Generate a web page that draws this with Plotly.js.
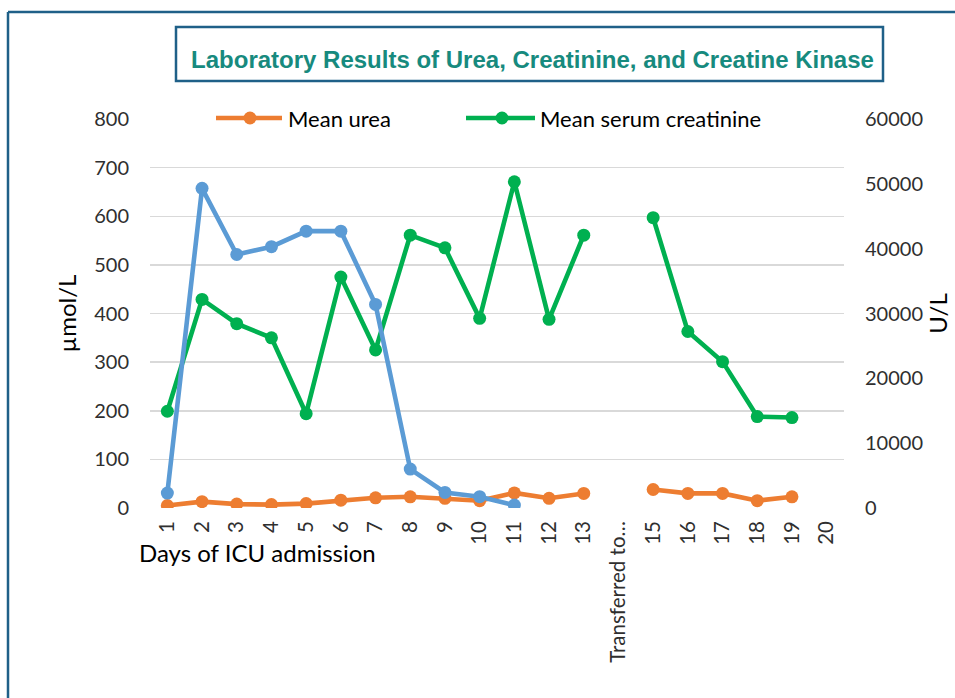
<!DOCTYPE html>
<html>
<head>
<meta charset="utf-8">
<script src="https://cdn.plot.ly/plotly-3.0.1.min.js"></script>
<style>
  html, body { margin: 0; padding: 0; background: #ffffff; }
  #chart { width: 955px; height: 698px; }
</style>
</head>
<body>
<div id="chart"></div>
<script>
// ---- Data ----
const days = ["1","2","3","4","5","6","7","8","9","10","11","12","13","Transferred to…","15","16","17","18","19","20"];
const ureaValues = [5, 13, 8, 7, 9, 16, 21, 23, 20, 15, 31, 20, 30, null, 38, 30, 30, 15, 23, null];
const creatinineValues = [199, 429, 379, 350, 194, 475, 325, 561, 535, 390, 671, 388, 561, null, 597, 363, 301, 188, 186, null];
const ckDays = ["1","2","3","4","5","6","7","8","9","10","11"];
const ckValues = [2300, 49300, 39100, 40300, 42700, 42700, 31400, 6000, 2400, 1750, 450];
const seriesNames = ["Mean urea", "Mean serum creatinine", "Mean creatine kinase"];
const chartTitle = "Laboratory Results of Urea, Creatinine, and Creatine Kinase";
const xTitle = "Days of ICU admission";
const yLeftTitle = "µmol/L";
const yRightTitle = "U/L";

// ---- Layout geometry ----
const W = 955, H = 698;
const M = { l: 150, r: 111, t: 119, b: 190 };
const PW = W - M.l - M.r, PH = H - M.t - M.b;
const xp = px => (px - M.l) / PW;
const yp = py => (H - M.b - py) / PH;

const ORANGE = "#ED7D31", GREEN = "#00B050", BLUE = "#5B9BD5";
const FRAME = "#1F6088";
const TXT = "#2f2f2f";
const FONT = "Lato, 'Open Sans', sans-serif";

const lineW = 4.6, mSize = 13;

const traces = [
  {
    x: days, y: ureaValues, name: seriesNames[0], type: "scatter", mode: "lines+markers",
    line: { color: ORANGE, width: lineW }, marker: { color: ORANGE, size: mSize },
    connectgaps: false, yaxis: "y", showlegend: false
  },
  {
    x: days, y: creatinineValues, name: seriesNames[1], type: "scatter", mode: "lines+markers",
    line: { color: GREEN, width: lineW }, marker: { color: GREEN, size: mSize },
    connectgaps: false, yaxis: "y", showlegend: false
  },
  {
    x: ckDays, y: ckValues, name: seriesNames[2], type: "scatter", mode: "lines+markers",
    line: { color: BLUE, width: lineW }, marker: { color: BLUE, size: mSize },
    yaxis: "y2", showlegend: false
  }
];

// custom legend (line + marker + label)
function legendItem(x0, x1, cx, ty, color) {
  const r = mSize / 2;
  return [
    { type: "line", xref: "paper", yref: "paper", x0: xp(x0), x1: xp(x1), y0: yp(ty), y1: yp(ty),
      line: { color: color, width: lineW } },
    { type: "circle", xref: "paper", yref: "paper", x0: xp(cx - r), x1: xp(cx + r), y0: yp(ty + r), y1: yp(ty - r),
      fillcolor: color, line: { color: color, width: 0 } }
  ];
}

const shapes = [
  // outer frame
  { type: "line", xref: "paper", yref: "paper", x0: xp(8), x1: xp(956), y0: yp(12), y1: yp(12),
    line: { color: FRAME, width: 2.5 } },
  { type: "line", xref: "paper", yref: "paper", x0: xp(8), x1: xp(8), y0: yp(12), y1: yp(699),
    line: { color: FRAME, width: 2.5 } },
  // title box
  { type: "rect", xref: "paper", yref: "paper", x0: xp(176), x1: xp(883), y0: yp(27), y1: yp(81),
    line: { color: FRAME, width: 2.5 }, fillcolor: "rgba(0,0,0,0)" },
  ...legendItem(216, 282, 250, 118, ORANGE),
  ...legendItem(466, 535, 502, 118, GREEN)
];

const annotations = [
  { text: seriesNames[0], xref: "paper", yref: "paper", x: xp(286), y: yp(118), xanchor: "left", yanchor: "middle",
    showarrow: false, font: { family: FONT, size: 22, color: "#000" } },
  { text: seriesNames[1], xref: "paper", yref: "paper", x: xp(538), y: yp(118), xanchor: "left", yanchor: "middle",
    showarrow: false, font: { family: FONT, size: 22, color: "#000" } },
  { text: xTitle, xref: "paper", yref: "paper", x: xp(137), y: yp(552), xanchor: "left", yanchor: "middle",
    showarrow: false, font: { family: FONT, size: 24, color: "#000" } }
];

const layout = {
  width: W, height: H,
  margin: M,
  paper_bgcolor: "#ffffff", plot_bgcolor: "#ffffff",
  showlegend: false,
  title: {
    text: "<b>" + chartTitle + "</b>",
    font: { family: "'Liberation Sans', Arial, sans-serif", size: 24, color: "#178A7E" },
    x: 532.5 / W, xanchor: "center", xref: "container",
    y: 1 - 60 / H, yanchor: "middle", yref: "container"
  },
  xaxis: {
    type: "category", categoryorder: "array", categoryarray: days,
    range: [-0.5, days.length - 0.5],
    tickangle: -90, showgrid: false, zeroline: false, showline: false,
    ticks: "", ticklabelstandoff: 8,
    tickfont: { family: FONT, size: 20.5, color: TXT }
  },
  yaxis: {
    range: [0, 800], dtick: 100, tick0: 0,
    showgrid: true, gridcolor: "#d9d9d9", gridwidth: 1.5,
    zeroline: false, showline: false, ticks: "", ticklabelstandoff: 20,
    tickfont: { family: FONT, size: 20, color: TXT },
    title: { text: yLeftTitle, font: { family: FONT, size: 24, color: "#000" }, standoff: 10 }
  },
  yaxis2: {
    overlaying: "y", side: "right",
    range: [0, 60000], dtick: 10000, tick0: 0, tickformat: "d",
    showgrid: false, zeroline: false, showline: false, ticks: "", ticklabelstandoff: 20,
    tickfont: { family: FONT, size: 20, color: TXT },
    title: { text: yRightTitle, font: { family: FONT, size: 24, color: "#000" }, standoff: 8 }
  },
  shapes: shapes,
  annotations: annotations
};

Plotly.newPlot("chart", traces, layout, { displayModeBar: false, staticPlot: true });
</script>
</body>
</html>
